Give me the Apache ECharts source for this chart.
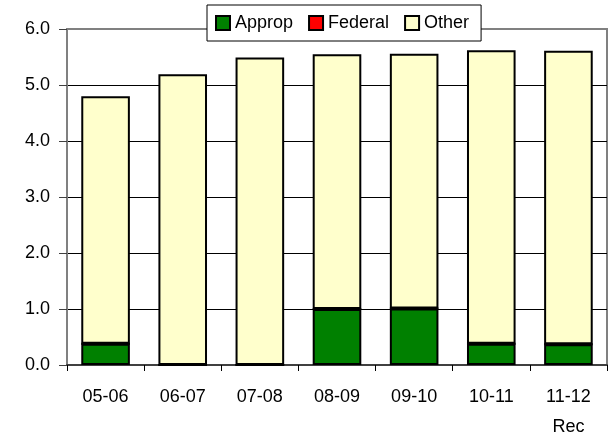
<!DOCTYPE html>
<html>
<head>
<meta charset="utf-8">
<script src="https://cdn.jsdelivr.net/npm/echarts@6/dist/echarts.min.js"></script>
<style>
html,body{margin:0;padding:0;background:#fff;}
#chart{width:611px;height:442px;}
</style>
</head>
<body>
<div id="chart"></div>
<script>
var categories = ['05-06', '06-07', '07-08', '08-09', '09-10', '10-11', '11-12\nRec'];
var appropValues = [0.38, 0, 0, 1.00, 1.01, 0.38, 0.37];
var federalValues = [0, 0, 0, 0, 0, 0, 0];
var otherValues = [4.42, 5.19, 5.49, 4.55, 4.55, 5.24, 5.24];
var yTicks = [0, 1, 2, 3, 4, 5, 6];

var FONT = "'Liberation Sans', Arial, sans-serif";
var FS = 18;
var chart = echarts.init(document.getElementById('chart'), null, {renderer: 'canvas'});

function barSeries(name, data, color) {
  return {
    name: name,
    type: 'bar',
    stack: 'total',
    data: data,
    barWidth: '63%',
    itemStyle: {color: color, borderColor: '#000', borderWidth: 2},
    emphasis: {disabled: true},
    animation: false
  };
}

chart.setOption({
  animation: false,
  backgroundColor: '#fff',
  textStyle: {fontFamily: FONT},
  legend: {
    left: 207,
    top: 5,
    padding: [9, 12, 9, 8],
    itemWidth: 14,
    itemHeight: 14,
    itemGap: 15,
    icon: 'rect',
    backgroundColor: '#fff',
    borderColor: '#000',
    borderWidth: 1,
    textStyle: {fontSize: FS, color: '#000', fontFamily: FONT},
    itemStyle: {borderColor: '#000', borderWidth: 2},
    data: ['Approp', 'Federal', 'Other']
  },
  grid: {
    left: 67, right: 4, top: 29, bottom: 73,
    show: true,
    borderColor: '#808080',
    borderWidth: 2,
    backgroundColor: 'transparent'
  },
  xAxis: {
    type: 'category',
    data: categories,
    boundaryGap: true,
    axisLine: {show: true, lineStyle: {color: '#404040', width: 2}},
    axisTick: {show: true, length: 6, lineStyle: {color: '#000', width: 1}},
    axisLabel: {fontSize: FS, color: '#000', margin: 17, lineHeight: 30, fontFamily: FONT},
    splitLine: {show: false}
  },
  yAxis: {
    type: 'value',
    min: yTicks[0],
    max: yTicks[yTicks.length - 1],
    interval: 1,
    axisLine: {show: true, lineStyle: {color: '#808080', width: 2}},
    axisTick: {show: true, length: 8, lineStyle: {color: '#404040', width: 1}},
    axisLabel: {
      fontSize: FS, color: '#000', margin: 17, fontFamily: FONT,
      formatter: function (v) { return v.toFixed(1); }
    },
    splitLine: {show: true, lineStyle: {color: ['#000', '#000', '#000', '#000', '#000', '#000', '#808080'], width: 1}}
  },
  series: [
    barSeries('Approp', appropValues, '#008000'),
    barSeries('Federal', federalValues, '#FF0000'),
    barSeries('Other', otherValues, '#FFFFCC')
  ]
});
</script>
</body>
</html>
